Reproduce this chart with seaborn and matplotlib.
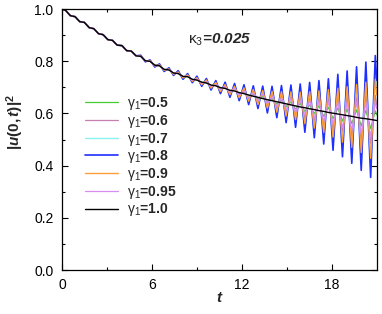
import matplotlib
matplotlib.use("Agg")
import matplotlib.pyplot as plt
import seaborn as sns

# time points (s) read at the extrema of the oscillation
t_early = [0.00, 0.25, 0.56, 0.88, 1.19, 1.50, 1.82, 2.13, 2.44, 2.75, 3.07, 3.38,
           3.69, 4.01, 4.32, 4.63, 4.95]
t_late = [5.26, 5.57, 5.88, 6.20, 6.51, 6.82, 7.14, 7.45, 7.76, 8.08, 8.39, 8.70,
          9.01, 9.33, 9.64, 9.95, 10.27, 10.58, 10.89, 11.21, 11.52, 11.83, 12.15, 12.46,
          12.77, 13.08, 13.40, 13.71, 14.02, 14.34, 14.65, 14.96, 15.28, 15.59, 15.90, 16.21,
          16.53, 16.84, 17.15, 17.47, 17.78, 18.09, 18.41, 18.72, 19.03, 19.34, 19.66, 19.97,
          20.28, 20.60, 20.91, 21.00]

# all curves lie on top of each other up to t ~ 5
u_early = [1.000, 0.995, 0.975, 0.971, 0.952, 0.949, 0.929, 0.925, 0.906, 0.902, 0.883, 0.880,
           0.862, 0.860, 0.841, 0.839, 0.821]

g050 = [0.819, 0.802, 0.800, 0.785, 0.783, 0.769, 0.767, 0.755, 0.753, 0.742, 0.741, 0.730,
        0.729, 0.719, 0.718, 0.707, 0.708, 0.696, 0.699, 0.686, 0.690, 0.676, 0.681, 0.666,
        0.673, 0.655, 0.665, 0.645, 0.657, 0.636, 0.650, 0.626, 0.644, 0.617, 0.638, 0.608,
        0.633, 0.599, 0.629, 0.589, 0.624, 0.580, 0.621, 0.571, 0.617, 0.561, 0.614, 0.552,
        0.612, 0.542, 0.610, 0.595]
g060 = [0.819, 0.802, 0.800, 0.784, 0.784, 0.768, 0.769, 0.753, 0.756, 0.739, 0.744, 0.727,
        0.733, 0.714, 0.723, 0.702, 0.713, 0.690, 0.705, 0.679, 0.697, 0.668, 0.690, 0.656,
        0.683, 0.645, 0.676, 0.633, 0.671, 0.620, 0.667, 0.608, 0.663, 0.596, 0.660, 0.584,
        0.659, 0.572, 0.658, 0.558, 0.658, 0.544, 0.659, 0.530, 0.660, 0.516, 0.663, 0.501,
        0.666, 0.485, 0.670, 0.633]
g070 = [0.822, 0.799, 0.804, 0.780, 0.789, 0.762, 0.774, 0.747, 0.762, 0.733, 0.751, 0.719,
        0.741, 0.706, 0.732, 0.693, 0.724, 0.679, 0.717, 0.666, 0.711, 0.653, 0.706, 0.639,
        0.702, 0.624, 0.699, 0.608, 0.697, 0.591, 0.699, 0.574, 0.700, 0.557, 0.702, 0.539,
        0.707, 0.520, 0.712, 0.500, 0.718, 0.479, 0.731, 0.456, 0.742, 0.433, 0.755, 0.407,
        0.768, 0.382, 0.785, 0.705]
g080 = [0.823, 0.798, 0.805, 0.778, 0.790, 0.761, 0.775, 0.746, 0.764, 0.731, 0.753, 0.718,
        0.743, 0.704, 0.734, 0.690, 0.726, 0.676, 0.720, 0.662, 0.715, 0.649, 0.710, 0.634,
        0.706, 0.619, 0.705, 0.602, 0.704, 0.584, 0.707, 0.565, 0.709, 0.547, 0.713, 0.528,
        0.719, 0.507, 0.726, 0.483, 0.733, 0.459, 0.750, 0.434, 0.763, 0.409, 0.779, 0.382,
        0.797, 0.355, 0.822, 0.727]
g090 = [0.820, 0.801, 0.802, 0.782, 0.786, 0.765, 0.771, 0.750, 0.759, 0.736, 0.748, 0.723,
        0.737, 0.710, 0.728, 0.697, 0.719, 0.684, 0.711, 0.672, 0.704, 0.660, 0.698, 0.647,
        0.692, 0.634, 0.688, 0.620, 0.685, 0.605, 0.684, 0.590, 0.683, 0.576, 0.682, 0.561,
        0.684, 0.544, 0.687, 0.527, 0.691, 0.509, 0.697, 0.490, 0.703, 0.470, 0.711, 0.450,
        0.720, 0.428, 0.731, 0.671]
g095 = [0.819, 0.802, 0.800, 0.785, 0.783, 0.768, 0.768, 0.754, 0.755, 0.741, 0.743, 0.728,
        0.732, 0.716, 0.721, 0.704, 0.711, 0.693, 0.702, 0.682, 0.694, 0.671, 0.686, 0.660,
        0.679, 0.649, 0.672, 0.638, 0.665, 0.626, 0.660, 0.615, 0.656, 0.604, 0.651, 0.594,
        0.649, 0.582, 0.646, 0.570, 0.644, 0.559, 0.643, 0.546, 0.643, 0.534, 0.643, 0.521,
        0.644, 0.508, 0.646, 0.619]
g100 = [0.819, 0.802, 0.800, 0.785, 0.783, 0.769, 0.767, 0.755, 0.753, 0.742, 0.741, 0.731,
        0.728, 0.720, 0.717, 0.709, 0.706, 0.699, 0.696, 0.689, 0.686, 0.680, 0.676, 0.671,
        0.666, 0.662, 0.657, 0.653, 0.649, 0.645, 0.641, 0.637, 0.633, 0.629, 0.625, 0.622,
        0.618, 0.615, 0.611, 0.608, 0.604, 0.601, 0.598, 0.595, 0.592, 0.589, 0.585, 0.582,
        0.580, 0.577, 0.574, 0.573]

gamma_labels = ["0.5", "0.6", "0.7", "0.8", "0.9", "0.95", "1.0"]
curves = [g050, g060, g070, g080, g090, g095, g100]
colors = ["#44cc33", "#c77fb0", "#8ff0f0", "#1f2fff", "#ff9f3a", "#d98cf2", "#000000"]
widths = [0.9, 0.9, 1.0, 1.2, 1.0, 0.9, 1.0]

x_ticks = [0, 6, 12, 18]
x_minor = [3, 9, 15]
y_ticks = [0.0, 0.2, 0.4, 0.6, 0.8, 1.0]
y_minor = [0.1, 0.3, 0.5, 0.7, 0.9]
y_tick_labels = ["0.0", "0.2", "0.4", "0.6", "0.8", "1.0"]

sns.set_style("ticks")
plt.rcParams["font.family"] = ["Liberation Sans", "DejaVu Sans"]
plt.rcParams["mathtext.fontset"] = "custom"
plt.rcParams["mathtext.rm"] = "Liberation Sans"
plt.rcParams["mathtext.it"] = "Liberation Sans:italic"
plt.rcParams["mathtext.bf"] = "Liberation Sans:bold"
has_bfit = "mathtext.bfit" in plt.rcParams
if has_bfit:
    plt.rcParams["mathtext.bfit"] = "Liberation Sans:bold:italic"

fig = plt.figure(figsize=(3.82, 3.14), dpi=100)
ax = fig.add_axes([0.162, 0.140, 0.824, 0.831])

t_all = t_early + t_late
for lab, vals, c, lw in zip(gamma_labels, curves, colors, widths):
    sns.lineplot(x=t_all, y=u_early + vals, color=c, lw=lw, ax=ax,
                 sort=False, estimator=None, label=r"$\mathrm{\gamma}_{1}$=" + lab)

ax.set_xlim(0, 21)
ax.set_ylim(0, 1)
ax.set_xticks(x_ticks)
ax.set_xticks(x_minor, minor=True)
ax.set_yticks(y_ticks)
ax.set_yticklabels(y_tick_labels)
ax.set_yticks(y_minor, minor=True)
ax.tick_params(which="both", direction="in", top=True, right=True, width=0.8,
               labelsize=10, pad=6, colors="black")
ax.tick_params(which="major", length=4)
ax.tick_params(which="minor", length=2.5)
for s in ax.spines.values():
    s.set_linewidth(0.9)
    s.set_color("black")

if has_bfit:
    ylab = r"$\mathbf{|}\mathbfit{u}\mathbf{(0,}\mathbfit{t}\mathbf{)|}^{\mathbf{2}}$"
else:
    ylab = r"$\mathbf{|}\mathit{u}\mathbf{(0,}\mathit{t}\mathbf{)|}^{\mathbf{2}}$"
ax.set_ylabel(ylab, fontsize=11)
ax.yaxis.set_label_coords(-0.113, 0.567)
ax.set_xlabel("t", fontsize=11, fontweight="bold", fontstyle="italic")
ax.xaxis.set_label_coords(0.5, -0.08)

ax.text(8.4, 0.881, r"$\mathrm{\kappa}_{3}$=0.025", fontsize=11, fontweight="bold",
        fontstyle="italic", va="center", ha="left")

ax.legend(loc="upper left", bbox_to_anchor=(0.073, 0.67), frameon=False,
          handlelength=2.4, handletextpad=0.6, labelspacing=0.05, borderpad=0,
          borderaxespad=0, prop={"weight": "bold", "size": 10})

fig.savefig("out.png", dpi=100)
